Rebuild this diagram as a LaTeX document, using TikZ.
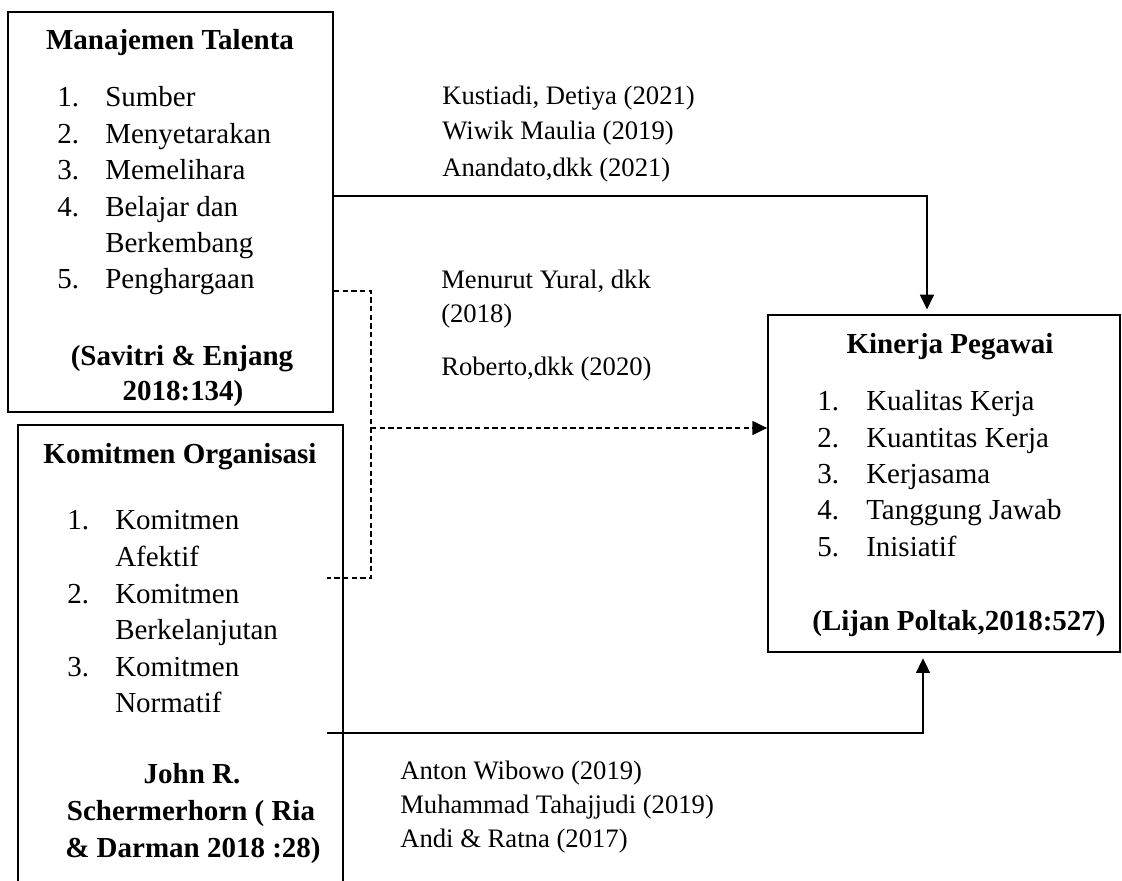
\documentclass[tikz,border=0pt]{standalone}
\usepackage{fontspec}
\setmainfont{Liberation Serif}
\usetikzlibrary{arrows.meta,fit}
\begin{document}
\begin{tikzpicture}[x=0.75pt,y=-0.75pt,
  boxframe/.style={draw, line width=1.4pt, inner sep=0pt},
  big/.style={font=\fontsize{21.75}{26}\selectfont, inner sep=0pt, anchor=base west},
  bigb/.style={font=\fontsize{21.75}{26}\selectfont\bfseries, inner sep=0pt, anchor=base},
  small/.style={font=\fontsize{20}{24}\selectfont, inner sep=0pt, anchor=base west},
  conn/.style={line width=0.9pt},
  tip/.style={-{Triangle[length=11pt,width=10.5pt]}},
  dash line/.style={dash pattern=on 4pt off 2.5pt},
]
\clip (0,0) rectangle (1122,881);
\fill[white] (0,0) rectangle (1122,881);

% boxes
\node (box1) [boxframe, fit={(8,12) (333,412)}] {};
\node (box2) [boxframe, fit={(18,425) (343,900)}] {};
\node (box3) [boxframe, fit={(768,315) (1120,652)}] {};

% box 1 text
\node (t1) [bigb] at (170,50) {Manajemen Talenta};
\node (n11) [big] at (57,107) {1.};
\node (i11) [big] at (105,107) {Sumber};
\node (n12) [big] at (57,143) {2.};
\node (i12) [big] at (105,143) {Menyetarakan};
\node (n13) [big] at (57,180) {3.};
\node (i13) [big] at (105,180) {Memelihara};
\node (n14) [big] at (57,216) {4.};
\node (i14) [big] at (105,216) {Belajar dan};
\node (i14b) [big] at (105,252) {Berkembang};
\node (n15) [big] at (57,288) {5.};
\node (i15) [big] at (105,288) {Penghargaan};
\node (r1a) [bigb] at (182,365) {(Savitri \& Enjang};
\node (r1b) [bigb] at (183,400) {2018:134)};

% box 2 text
\node (t2) [bigb] at (180,463) {Komitmen Organisasi};
\node (n21) [big] at (67,529) {1.};
\node (i21) [big] at (115,529) {Komitmen};
\node (i21b) [big] at (115,566) {Afektif};
\node (n22) [big] at (67,603) {2.};
\node (i22) [big] at (115,603) {Komitmen};
\node (i22b) [big] at (115,639) {Berkelanjutan};
\node (n23) [big] at (67,676) {3.};
\node (i23) [big] at (115,676) {Komitmen};
\node (i23b) [big] at (115,712) {Normatif};
\node (r2a) [bigb] at (192,783) {John R.};
\node (r2b) [bigb] at (191,820) {Schermerhorn ( Ria};
\node (r2c) [bigb] at (193,857) {\& Darman 2018 :28)};

% box 3 text
\node (t3) [bigb] at (950,353) {Kinerja Pegawai};
\node (n31) [big] at (817,410) {1.};
\node (i31) [big] at (866,410) {Kualitas Kerja};
\node (n32) [big] at (817,447) {2.};
\node (i32) [big] at (866,447) {Kuantitas Kerja};
\node (n33) [big] at (817,483) {3.};
\node (i33) [big] at (866,483) {Kerjasama};
\node (n34) [big] at (817,519) {4.};
\node (i34) [big] at (866,519) {Tanggung Jawab};
\node (n35) [big] at (817,556) {5.};
\node (i35) [big] at (866,556) {Inisiatif};
\node (r3) [bigb] at (959,630) {(Lijan Poltak,2018:527)};

% annotations
\node (a1) [small] at (442,104) {Kustiadi, Detiya (2021)};
\node (a2) [small] at (442,140) {Wiwik Maulia (2019)};
\node (a3) [small] at (442,176) {Anandato,dkk (2021)};
\node (a4) [small] at (441,288) {Menurut Yural, dkk};
\node (a5) [small] at (441,322) {(2018)};
\node (a6) [small] at (441,375) {Roberto,dkk (2020)};
\node (a7) [small] at (400,779) {Anton Wibowo (2019)};
\node (a8) [small] at (400,813) {Muhammad Tahajjudi (2019)};
\node (a9) [small] at (400,847) {Andi \& Ratna (2017)};

% connectors
\coordinate (c1) at (927,196);
\draw[conn,tip,shorten >=3.5pt] (box1.east |- c1) -- (c1) -- (c1 |- box3.north);

\coordinate (d1) at (371,291);
\coordinate (d2) at (371,578);
\coordinate (d3) at (327,578);
\draw[conn,dash line] (box1.east |- d1) -- (d1) -- (d2) -- (d3);
\coordinate (dm) at (371,428);
\draw[conn,dash line,tip] (dm) -- (dm -| box3.west);

\coordinate (e0) at (327,733);
\coordinate (e1) at (923,733);
\draw[conn,tip,shorten >=4pt] (e0) -- (e1) -- (e1 |- box3.south);
\end{tikzpicture}
\end{document}
